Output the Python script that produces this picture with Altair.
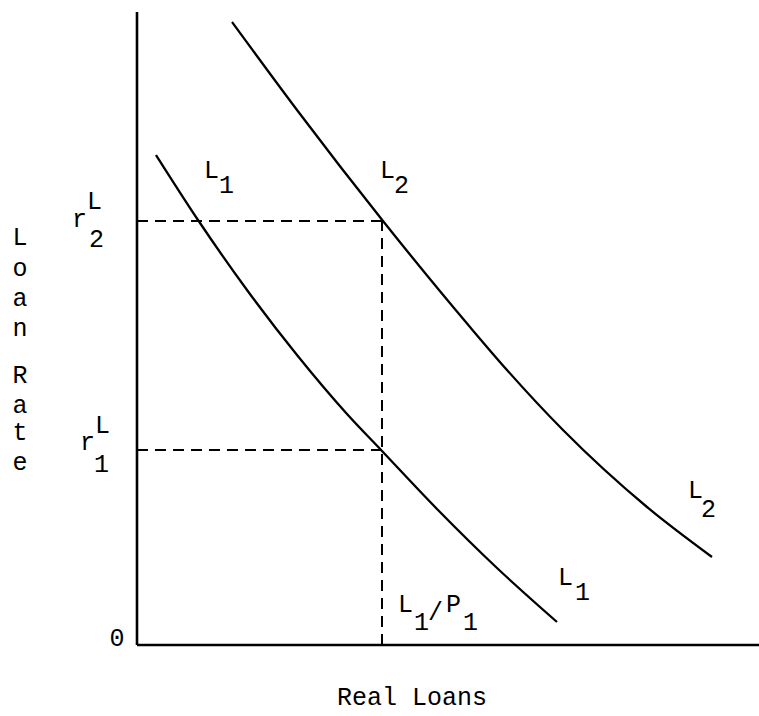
import altair as alt
import pandas as pd

# Coordinates in chart units: origin at the axes corner
# Demand curve L1 (real loans, loan rate)
l1_x = [19, 61, 110, 160, 210, 245, 300, 360, 420]
l1_y = [490, 425, 355, 290, 231, 194, 136, 77, 23]
# Demand curve L2
l2_x = [95, 160, 246, 333, 370, 426, 510, 575]
l2_y = [623, 535, 424, 318, 275, 215, 138, 88]

# Reference levels
r2_level = 424
r1_level = 195
loans_level = 245

# Axes extents
x_max = 622
y_max = 633

# Labels: text, x (left edge), y (baseline)
lab_text = ["L", "1", "L", "2", "L", "2", "L", "1",
            "L", "1", "/", "P", "1",
            "r", "L", "2", "r", "L", "1"]
lab_x = [67, 82, 243, 257, 551, 564, 421, 438,
         261, 277, 291, 309, 326,
         -65, -50, -48, -57, -42, -43]
lab_y = [467, 452, 467, 452, 147, 128, 60, 45,
         33, 15, 25, 33, 15,
         418, 436, 398, 195, 212, 173]

axis_letters = list("Loan") + list("Rate")
axis_letter_y = [400, 369, 339, 309, 262, 232, 205, 175]

FONT = "Liberation Mono"
FS = 25

xs = alt.Scale(domain=[-137, 622], nice=False, zero=False)
ys = alt.Scale(domain=[-71, 645], nice=False, zero=False)

curves = pd.DataFrame({
    "x": l1_x + l2_x,
    "y": l1_y + l2_y,
    "curve": ["L1"] * len(l1_x) + ["L2"] * len(l2_x),
})

curve_layer = alt.Chart(curves).mark_line(
    color="black", strokeWidth=2.3, interpolate="monotone"
).encode(
    x=alt.X("x:Q", scale=xs, axis=None),
    y=alt.Y("y:Q", scale=ys, axis=None),
    detail="curve:N",
)

axes_df = pd.DataFrame({
    "x": [0, 0], "x2": [0, x_max], "y": [0, 0], "y2": [y_max, 0]
})
axes_layer = alt.Chart(axes_df).mark_rule(color="black", strokeWidth=2.6).encode(
    x=alt.X("x:Q", scale=xs, axis=None),
    x2="x2:Q",
    y=alt.Y("y:Q", scale=ys, axis=None),
    y2="y2:Q",
)

dash_df = pd.DataFrame({
    "x": [0, loans_level, 0],
    "x2": [loans_level, loans_level, loans_level],
    "y": [r2_level, 0, r1_level],
    "y2": [r2_level, r2_level, r1_level],
})
dash_layer = alt.Chart(dash_df).mark_rule(
    color="black", strokeWidth=2, strokeDash=[11, 7]
).encode(
    x=alt.X("x:Q", scale=xs, axis=None),
    x2="x2:Q",
    y=alt.Y("y:Q", scale=ys, axis=None),
    y2="y2:Q",
)

labels = pd.DataFrame({"t": lab_text, "x": lab_x, "y": lab_y})
label_layer = alt.Chart(labels).mark_text(
    font=FONT, fontSize=FS, align="left", baseline="alphabetic", color="black"
).encode(
    x=alt.X("x:Q", scale=xs, axis=None),
    y=alt.Y("y:Q", scale=ys, axis=None),
    text="t:N",
)

other = pd.DataFrame({
    "t": ["0", "Real Loans"],
    "x": [-20, 275],
    "y": [-1, -60],
})
other_layer = alt.Chart(other).mark_text(
    font=FONT, fontSize=FS, align="center", baseline="alphabetic", color="black"
).encode(
    x=alt.X("x:Q", scale=xs, axis=None),
    y=alt.Y("y:Q", scale=ys, axis=None),
    text="t:N",
)

vert = pd.DataFrame({
    "t": axis_letters,
    "x": [-117] * len(axis_letters),
    "y": axis_letter_y,
})
vert_layer = alt.Chart(vert).mark_text(
    font=FONT, fontSize=FS, align="center", baseline="alphabetic", color="black"
).encode(
    x=alt.X("x:Q", scale=xs, axis=None),
    y=alt.Y("y:Q", scale=ys, axis=None),
    text="t:N",
)

chart = alt.layer(
    dash_layer, axes_layer, curve_layer, label_layer, other_layer, vert_layer
).properties(
    width=759, height=716,
    autosize=alt.AutoSizeParams(type="none"),
    padding=0,
    background="white",
).configure_view(stroke=None)

chart.save("out.html", embed_options={"renderer": "svg", "actions": False})
